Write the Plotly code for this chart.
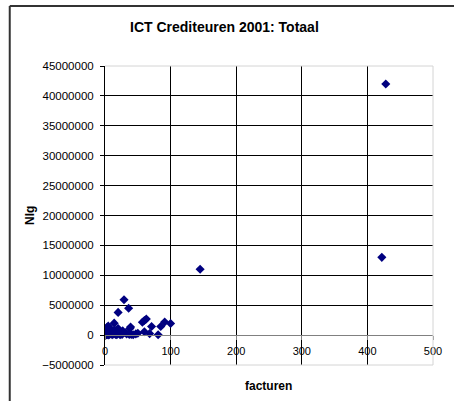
import plotly.graph_objects as go

title_text = "ICT Crediteuren 2001: Totaal"
x_title = "facturen"
y_title = "Nlg"

facturen = [428, 422, 145,
            29, 36, 20, 14, 39, 38, 57, 60, 63, 71, 85, 91, 100,
            60, 68, 81, 47, 43, 40, 37, 27, 31, 33, 50,
            0, 0, 1, 2, 3, 4, 5, 6, 7, 8, 9, 10, 11, 12, 13, 15, 16, 17, 18,
            20, 21, 22, 23, 24, 25, 26, 1, 3, 5, 14, 19, 9]
nlg = [42000000, 13000000, 11000000,
       5900000, 4500000, 3800000, 2000000, 1350000, 1100000, 2150000, 2450000, 2700000,
       1450000, 1450000, 2200000, 1950000,
       550000, 250000, 50000, 200000, 50000, 100000, 100000, 700000, 400000, 200000, 300000,
       50000, 800000, 300000, 100000, 1300000, 500000, 1500000, 200000, 100000, 1000000,
       300000, 500000, 50000, 700000, 200000, 800000, 100000, 400000, 50000,
       1100000, 300000, 600000, 50000, 200000, 300000, 100000, 0, 50000, 20000, 400000,
       600000, 900000]

x_range = [0, 500]
x_dtick = 100
y_range = [-5000000, 45000000]
y_dtick = 5000000

W, H = 454, 401
L, R, T, B = 105, 15, 66, 36
pw, ph = W - L - R, H - T - B

def px_x(p):
    return (p - L) / pw

def px_y(p):
    return (H - B - p) / ph

fig = go.Figure()
fig.add_trace(go.Scatter(
    x=facturen, y=nlg, mode="markers",
    marker=dict(symbol="diamond", size=7, color="#000080", line=dict(width=0)),
    hoverinfo="x+y", showlegend=False))

axis_pos = (0 - y_range[0]) / (y_range[1] - y_range[0])

font = "Liberation Sans, Arial, sans-serif"
fig.update_layout(
    width=W, height=H,
    margin=dict(l=L, r=R, t=T, b=B, pad=0),
    paper_bgcolor="white", plot_bgcolor="white",
    font=dict(family=font, color="#000", size=11),
    xaxis=dict(range=x_range, dtick=x_dtick, tick0=0, anchor="free", position=axis_pos,
               showgrid=True, gridcolor="#000", gridwidth=1, zeroline=False,
               showline=True, linecolor="#808080", linewidth=1,
               ticks="outside", ticklen=4, tickcolor="#808080",
               ticklabelstandoff=2,
               tickfont=dict(size=11, family=font, color="#000"),
               fixedrange=True),
    yaxis=dict(range=y_range, dtick=y_dtick, tick0=0, tickformat="d",
               showgrid=True, gridcolor="#000", gridwidth=1, zeroline=False,
               showline=True, linecolor="#000", linewidth=1,
               ticks="outside", ticklen=4, tickcolor="#000",
               ticklabelstandoff=4,
               tickfont=dict(size=11.5, family=font, color="#000"),
               fixedrange=True),
    shapes=[
        dict(type="line", xref="paper", yref="paper", x0=0, x1=1, y0=1, y1=1,
             line=dict(color="#d4d4d4", width=1)),
        dict(type="line", xref="paper", yref="paper", x0=1, x1=1, y0=0, y1=1,
             line=dict(color="#d4d4d4", width=1)),
        dict(type="line", xref="paper", yref="paper", x0=0, x1=1, y0=0, y1=0,
             line=dict(color="#d4d4d4", width=1)),
        dict(type="line", xref="paper", yref="paper", x0=px_x(8), x1=px_x(8), y0=px_y(6), y1=px_y(H + 10),
             line=dict(color="#333", width=2)),
        dict(type="line", xref="paper", yref="paper", x0=px_x(8), x1=px_x(W + 10), y0=px_y(6), y1=px_y(6),
             line=dict(color="#333", width=2)),
    ],
    annotations=[
        dict(text="<b>" + title_text + "</b>", xref="paper", yref="paper",
             x=px_x(227), y=px_y(27.5), xanchor="center", yanchor="middle",
             showarrow=False, font=dict(size=14, family=font, color="#000")),
        dict(text="<b>" + x_title + "</b>", xref="paper", yref="paper",
             x=px_x(271), y=px_y(386), xanchor="center", yanchor="middle",
             showarrow=False, font=dict(size=12, family=font, color="#000")),
        dict(text="<b>" + y_title + "</b>", xref="paper", yref="paper",
             x=px_x(28), y=px_y(215.5), xanchor="center", yanchor="middle", textangle=-90,
             showarrow=False, font=dict(size=12, family=font, color="#000")),
    ],
)

fig.write_html("out.html", config={"displayModeBar": False},
               post_script="document.body.style.margin='0';document.body.style.overflow='hidden';")
